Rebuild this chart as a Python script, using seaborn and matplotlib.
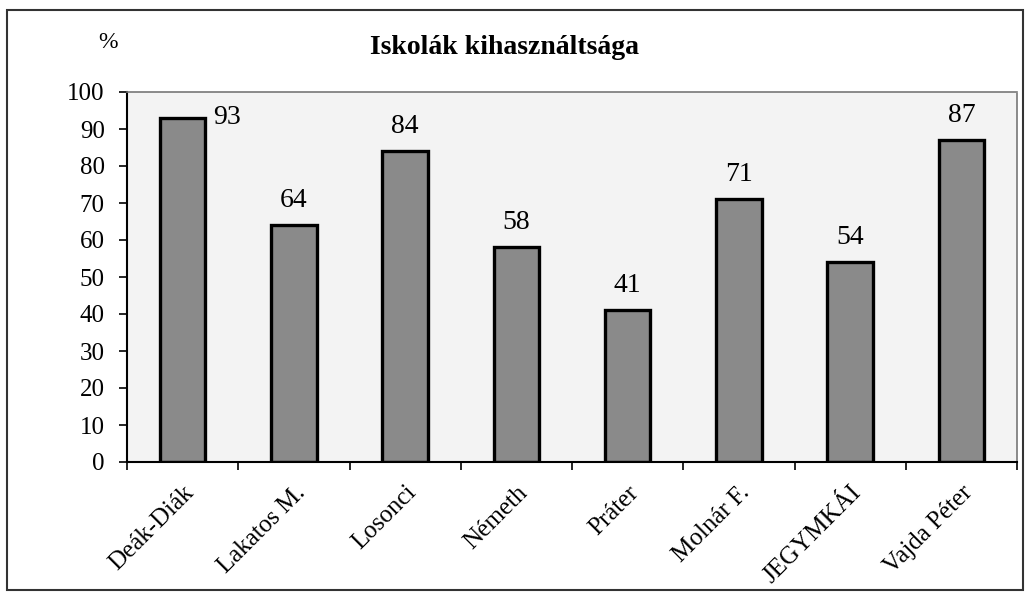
import matplotlib
matplotlib.use("Agg")
import matplotlib.pyplot as plt
import seaborn as sns
import pandas as pd
import numpy as np
from matplotlib.patches import Rectangle

categories = ["Deák-Diák", "Lakatos M.", "Losonci", "Németh", "Práter",
              "Molnár F.", "JEGYMKÁI", "Vajda Péter"]
values = [93, 64, 84, 58, 41, 71, 54, 87]
yticks = [0, 10, 20, 30, 40, 50, 60, 70, 80, 90, 100]
title = "Iskolák kihasználtsága"
unit = "%"

sns.set_theme(style="white")
plt.rcParams["font.family"] = ["Liberation Serif", "DejaVu Serif"]
plt.rcParams["text.color"] = "black"
plt.rcParams["xtick.color"] = "black"
plt.rcParams["ytick.color"] = "black"

df = pd.DataFrame({"iskola": categories, "ertek": values})

fig = plt.figure(figsize=(10.30, 5.98), dpi=100)
ax = fig.add_axes([127/1030, 1 - 462/598, 890/1030, 370/598])
ax.set_facecolor("#f3f3f3")

sns.barplot(data=df, x="iskola", y="ertek", ax=ax, color="#8a8a8a",
            edgecolor="black", linewidth=2.4, width=0.41, saturation=1)

for i, v in enumerate(values):
    if i == 0:
        ax.text(i + 0.27, v, str(v), ha="left", va="center", fontsize=20, color="black")
    else:
        ax.text(i, v + 5, str(v), ha="center", va="baseline", fontsize=20, color="black")

ax.set_xlim(-0.5, len(categories) - 0.5)
ax.set_ylim(0, 100)
ax.set_yticks(yticks)
ax.set_yticklabels([str(t) for t in yticks], fontsize=18)
ax.set_xticks(range(len(categories)))
ax.set_xticklabels(categories, rotation=45, ha="right", rotation_mode="anchor", fontsize=18)
ax.set_xticks(np.arange(-0.5, len(categories), 1.0), minor=True)
ax.tick_params(axis="x", which="major", length=0, pad=14)
ax.tick_params(axis="x", which="minor", length=6, width=1.2, color="black", direction="out", bottom=True)
ax.tick_params(axis="y", which="major", length=6, width=1.2, color="black", direction="out", left=True, pad=10)
ax.set_xlabel("")
ax.set_ylabel("")

for s in ["left", "bottom"]:
    ax.spines[s].set_color("black")
    ax.spines[s].set_linewidth(1.5)
for s in ["top", "right"]:
    ax.spines[s].set_color("#777777")
    ax.spines[s].set_linewidth(1.2)
    ax.spines[s].set_linestyle((0, (1, 1)))

fig.text(505/1030, 1 - 48/598, title, ha="center", va="center", fontsize=20, fontweight="bold")
fig.text(108/1030, 1 - 42/598, unit, ha="center", va="center", fontsize=17)

fig.patches.append(Rectangle((7/1030, 8/598), 1016/1030, 580/598, transform=fig.transFigure,
                             fill=False, edgecolor="#333333", linewidth=1.5))

fig.savefig("out.png", dpi=100, facecolor="white")
